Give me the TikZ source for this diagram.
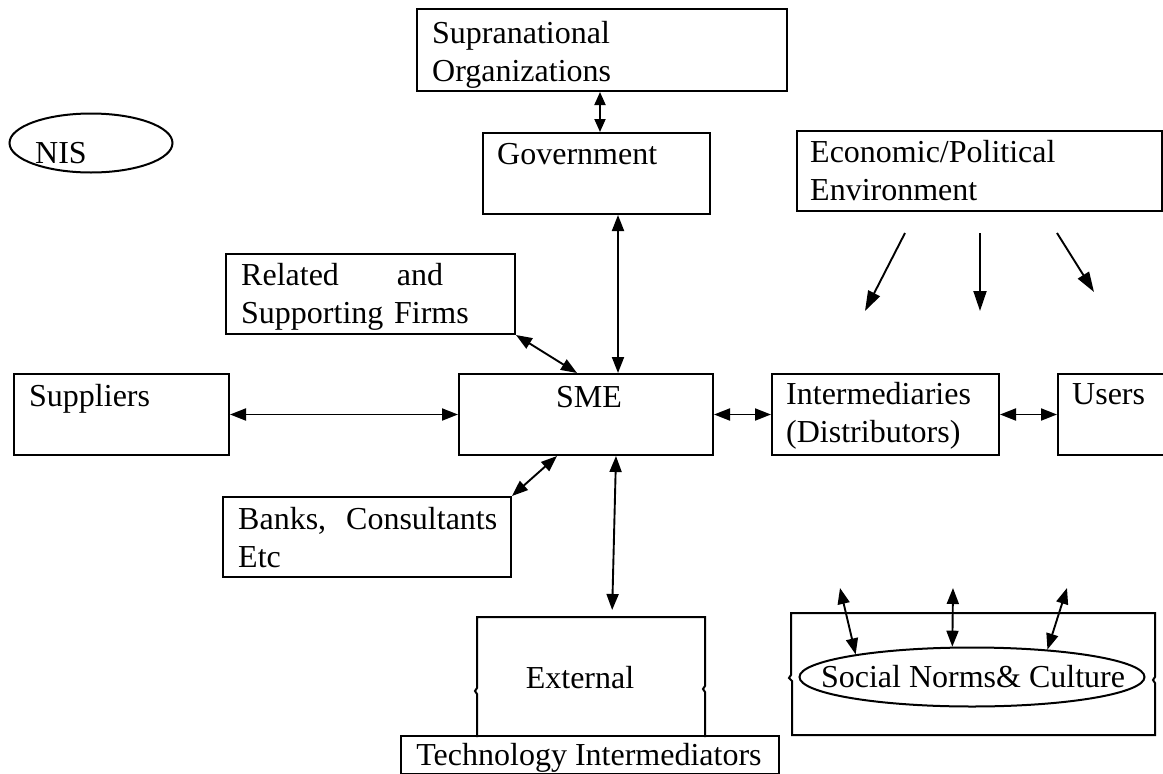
\documentclass[tikz,border=0pt]{standalone}
\usepackage{fontspec}
\setmainfont{Liberation Serif}
\usetikzlibrary{arrows.meta,shapes.geometric}
\begin{document}
\begin{tikzpicture}[x=1pt,y=-1pt,
  box/.style={draw, line width=2pt, rectangle, inner sep=0pt, anchor=north west},
  txt/.style={inner sep=0pt, anchor=base west, font=\fontsize{32}{38}\selectfont},
  ctxt/.style={inner sep=0pt, anchor=base, font=\fontsize{32}{38}\selectfont},
  mtxt/.style={txt, text width=#1, align=left},
  edge/.style={line width=2pt, line join=miter},
  tip/.tip={Triangle[length=16pt,width=12pt]},
  smalltip/.tip={Triangle[length=13pt,width=11pt]},
  bigtip/.tip={Triangle[length=20pt,width=13pt]},
  con/.style={line width=1.9pt, tip-tip},
  shortcon/.style={line width=1.9pt, smalltip-smalltip},
  one/.style={line width=1.9pt, -bigtip},
  oval/.style={draw, ellipse, line width=2pt, inner sep=0pt, font=\fontsize{32}{38}\selectfont}]
\clip (0,0) rectangle (1163,774);
\fill[white] (0,0) rectangle (1163,774);

% NIS
\node[oval, minimum width=163pt, minimum height=59pt, text height=40pt, text depth=0pt] (nis) at (91,143) {NIS\hspace*{60pt}};

% Supranational / Government
\node[box, minimum width=370pt, minimum height=82pt] (sup) at (416,8) {};
\node[mtxt=340pt] (supT) at (432,43) {Supranational\\Organizations};
\node[box, minimum width=227pt, minimum height=81pt] (gov) at (482,132) {};
\node[txt] (govT) at (497,164) {Government};

% Economic / Political
\node[box, minimum width=365pt, minimum height=80pt] (eco) at (796,130) {};
\node[mtxt=340pt] (ecoT) at (810,162) {Economic/Political\\Environment};

% Related
\node[box, minimum width=289pt, minimum height=80pt] (rel) at (225,253) {};
\node[mtxt=270pt] (relT) at (241,285) {Related\hspace*{58pt}and\\Supporting Firms};

% Middle row
\node[box, minimum width=215pt, minimum height=81pt] (sppl) at (13,373) {};
\node[txt] (spplT) at (29,406) {Suppliers};
\node[box, minimum width=254pt, minimum height=81pt] (sme) at (458,373) {};
\node[txt] (smeT) at (556,407) {SME};
\node[box, minimum width=227pt, minimum height=81pt] (inter) at (771,373) {};
\node[mtxt=220pt] (interT) at (786,404) {Intermediaries\\(Distributors)};
\node[box, minimum width=130pt, minimum height=81pt] (users) at (1057,373) {};
\node[txt] (usersT) at (1072,404) {Users};

% Banks
\node[box, minimum width=288pt, minimum height=80pt] (banks) at (222,496) {};
\node[mtxt=280pt] (banksT) at (238,529) {Banks,\hspace*{20pt}Consultants\\Etc};

% External / Technology Intermediators
\node[box, draw=none, minimum width=226pt, minimum height=118pt] (ext) at (477,617) {};
\draw[edge] (ext.south west) -- ++(0,-43) -- ++(-2,-3) -- ++(2,-3) -- (ext.north west)
  -- (ext.north east) -- ++(0,69) -- ++(-2,3) -- ++(2,3) -- (ext.south east);
\node[ctxt] (extT) at (580,688) {External};
\node[box, minimum width=378pt, minimum height=38pt] (tech) at (400,735) {};
\node[ctxt] (techT) at (589,765) {Technology Intermediators};

% Social norms
\node[box, draw=none, minimum width=362pt, minimum height=120pt] (socb) at (791,613) {};
\draw[edge] (socb.north west) -- ++(0,62) -- ++(-2,3) -- ++(3,3) |- (socb.south east)
  -- ++(0,-52) -- ++(-2,-3) -- ++(2,-3) |- (socb.north west) -- cycle;
\node[oval, minimum width=345pt, minimum height=59pt] (soc) at (972,677) {};
\node[ctxt] (socT) at (973,687) {Social Norms\&\ Culture};

% connectors
\coordinate (xa) at (600,0);
\coordinate (xb) at (618,0);
\coordinate (xc) at (577,0);
\coordinate (xd) at (557,0);
\coordinate (xe) at (616,0);
\coordinate (xf) at (612,0);
\draw[shortcon] (sup.south -| xa) -- (gov.north -| xa);
\draw[con] (gov.south -| xb) -- (sme.north -| xb);
\draw[con] (rel.south east) -- (sme.north -| xc);
\draw[con] (sppl.east) -- (sme.west);
\draw[con] (sme.east) -- (inter.west);
\draw[con] (inter.east) -- (users.west);
\draw[con] (sme.south -| xd) -- (banks.north east);
\draw[con, shorten >=7pt] (sme.south -| xe) -- (ext.north -| xf);

% economic arrows
\coordinate (e1s) at (905,233); \coordinate (e1e) at (865,311);
\coordinate (e2s) at (980,233); \coordinate (e2e) at (980,311);
\coordinate (e3s) at (1057,233); \coordinate (e3e) at (1094,292);
\draw[one] (e1s) -- (e1e);
\draw[one] (e2s) -- (e2e);
\draw[one] (e3s) -- (e3e);

% social arrows
\coordinate (s1) at (840,588);
\coordinate (s2) at (953,588);
\coordinate (s3) at (1067,588);
\draw[con] (s1) -- (soc.169);
\draw[con] (s2) -- (soc.123);
\draw[con] (s3) -- (soc.20);
\end{tikzpicture}
\end{document}
